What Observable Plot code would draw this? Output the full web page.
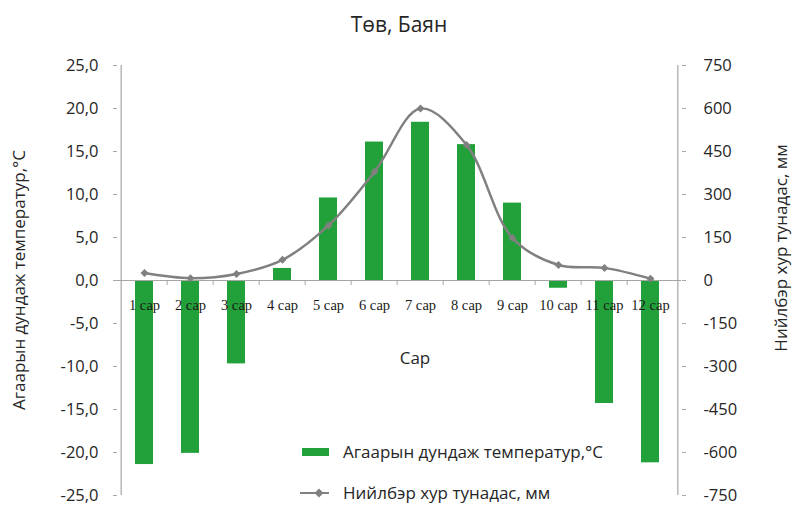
<!DOCTYPE html>
<html>
<head>
<meta charset="utf-8">
<script src="https://cdn.jsdelivr.net/npm/d3@7"></script>
<script src="https://cdn.jsdelivr.net/npm/@observablehq/plot@0.6"></script>
<style>
  body { margin: 0; background: #fff; }
  #chart { position: relative; width: 792px; height: 507px; font-family: "Open Sans", sans-serif; color: #262626; }
  #title { height: 40px; text-align: center; font-size: 21px; line-height: 48px; padding-left: 6px; }
  .abs { position: absolute; white-space: nowrap; font-size: 17px; line-height: 18px; }
  .vtitle { transform: translate(-50%, -50%) rotate(-90deg); }
  .ctitle { transform: translate(-50%, -50%); }
</style>
</head>
<body>
<div id="chart">
  <div id="title">Төв, Баян</div>
  <div id="plot"></div>
  <div class="abs vtitle" style="left:19px; top:280px;">Агаарын дундаж температур,°C</div>
  <div class="abs vtitle" style="left:781px; top:248px;">Нийлбэр хур тунадас, мм</div>
  <div class="abs ctitle" style="left:415px; top:358px;">Сар</div>
  <svg class="abs" style="left:300px; top:447px;" width="32" height="10">
    <rect x="2" y="1" width="27" height="8" fill="#22a039"></rect>
  </svg>
  <div class="abs" style="left:343px; top:443px;">Агаарын дундаж температур,°C</div>
  <svg class="abs" style="left:299px; top:487px;" width="32" height="12">
    <line x1="1" x2="30" y1="6" y2="6" stroke="#808080" stroke-width="2"></line>
    <path d="M20,1.5 L24.5,6 L20,10.5 L15.5,6 Z" fill="#808080"></path>
  </svg>
  <div class="abs" style="left:343px; top:484px;">Нийлбэр хур тунадас, мм</div>
</div>
<script>
// Monthly climate normals
const months = ["1 сар", "2 сар", "3 сар", "4 сар", "5 сар", "6 сар", "7 сар", "8 сар", "9 сар", "10 сар", "11 сар", "12 сар"];
const temperature = [-21.4, -20.1, -9.7, 1.4, 9.6, 16.1, 18.4, 15.8, 9.0, -0.9, -14.3, -21.2];   // °C
const precipitation = [26, 8, 23, 72, 192, 379, 600, 473, 148, 54, 44, 6];                      // мм
const temperatureTicks = [-25, -20, -15, -10, -5, 0, 5, 10, 15, 20, 25];
const precipitationTicks = [-750, -600, -450, -300, -150, 0, 150, 300, 450, 600, 750];

// the right axis (мм) shares the left axis (°C): 750 мм lines up with 25 °C
const mmPerDegree = 750 / 25;

const data = months.map((month, i) => ({month, temperature: temperature[i], precipitation: precipitation[i]}));

const green = "#22a039";
const lineGray = "#808080";
const axisGray = "#a6a6a6";

const width = 792, height = 467;
const marginLeft = 117, marginRight = 111;
const xStart = 117, xEnd = 677;
const step = (xEnd - xStart) / months.length;

const chart = Plot.plot({
  width,
  height,
  marginLeft,
  marginRight,
  marginTop: 25,
  marginBottom: 12,
  style: {fontFamily: "'Open Sans', sans-serif", fontSize: "16px", color: "#262626", background: "transparent"},
  x: {domain: months, range: [xStart, xEnd], paddingInner: 0.61, paddingOuter: 0.305, axis: null},
  y: {domain: [-25, 25], axis: null},
  marks: [
    Plot.barY(data, {x: "month", y: "temperature", fill: green}),
    Plot.ruleY([0], {stroke: axisGray, strokeWidth: 1.2}),
    // vertical axis lines on both sides of the plot area
    Plot.ruleX([months[0]], {dx: -step / 2, stroke: axisGray, strokeWidth: 1.2}),
    Plot.ruleX([months[months.length - 1]], {dx: step / 2 + 4, stroke: axisGray, strokeWidth: 1.2}),
    // category separators hanging below the zero line
    Plot.ruleX(months.slice(1), {y1: 0, y2: 0, insetBottom: -5, dx: -step / 2, stroke: axisGray}),
    Plot.axisY(temperatureTicks, {
      anchor: "left", label: null, tickSize: 4, tickPadding: 15,
      stroke: axisGray, fill: "#262626", fontSize: 16.5,
      tickFormat: d => d.toFixed(1).replace(".", ",")
    }),
    Plot.axisY(precipitationTicks.map(v => v / mmPerDegree), {
      anchor: "right", label: null, tickSize: 4, tickPadding: 18,
      stroke: axisGray, fill: "#262626", fontSize: 16.5,
      tickFormat: d => String(Math.round(d * mmPerDegree))
    }),
    Plot.text(data, {
      x: "month", y: 0, dy: 25, text: "month",
      fontFamily: "'Liberation Serif', serif", fontSize: 14.5, fill: "#1a1a1a"
    }),
    Plot.line(data, {
      x: "month", y: d => d.precipitation / mmPerDegree,
      stroke: lineGray, strokeWidth: 2.5, curve: "catmull-rom"
    }),
    Plot.dot(data, {
      x: "month", y: d => d.precipitation / mmPerDegree,
      symbol: "diamond2", r: 3.6, fill: lineGray, stroke: null
    })
  ]
});

document.getElementById("plot").appendChild(chart);
</script>
</body>
</html>
